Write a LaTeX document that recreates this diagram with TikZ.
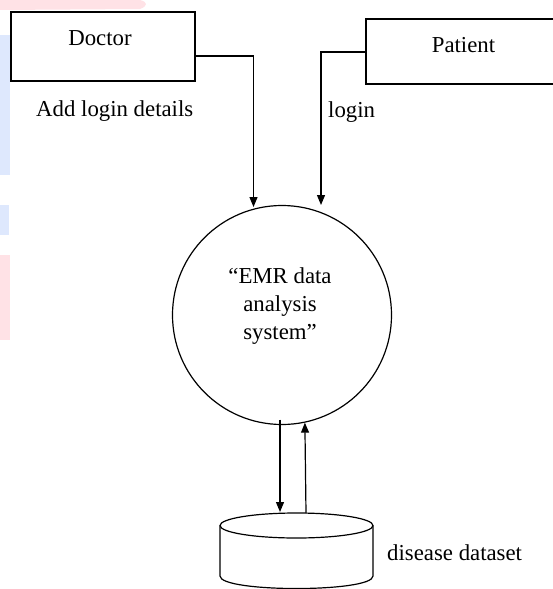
\documentclass[tikz,border=0pt]{standalone}
\usepackage{fontspec}
\setmainfont{Liberation Serif}
\usetikzlibrary{arrows.meta}
\definecolor{wmpink}{RGB}{255,226,230}
\definecolor{wmblue}{RGB}{222,232,253}
\begin{document}
\begin{tikzpicture}[x=1pt,y=-1pt,
  every node/.style={font=\fontsize{22.8}{28}\selectfont, inner sep=0pt},
  box/.style={draw, line width=1.2pt, rectangle},
  proc/.style={draw, line width=1.2pt, circle},
  lbl/.style={anchor=base},
  lblw/.style={anchor=base west},
  flow/.style={line width=1.2pt, -{Triangle[length=10pt,width=8pt]}}]
\useasboundingbox (0,0) rectangle (553,589);
% faint watermark traces
\fill[wmpink] (0,0) -- (140,0) .. controls (148,2) and (148,6) .. (140,9) -- (0,10) -- cycle;
\fill[wmblue] (0,35) rectangle (10,175);
\fill[wmblue] (0,205) rectangle (9,235);
\fill[wmpink] (0,255) rectangle (10,340);
% entities
\node[box, minimum width=184pt, minimum height=69pt] (doctor) at (103,46.5) {};
\node[lbl] (doctortxt) at (100,45) {Doctor};
\node[box, minimum width=195pt, minimum height=65pt] (patient) at (463.5,51.5) {};
\node[lbl] (patienttxt) at (463.5,52.5) {Patient};
% process
\node[proc, minimum size=219pt] (emr) at (282,315) {};
\node[align=center] (emrtxt) at (280,306.5) {``EMR data\\analysis\\system''};
% data store
\coordinate (db) at (296.5,525.5);
\draw[line width=1.2pt] (db) ellipse [x radius=76.5, y radius=12.5];
\draw[line width=1.2pt] (220,525.5) -- (220,576)
  .. controls (220,592.7) and (373,592.7) .. (373,576) -- (373,525.5);
\node[lblw] (dbtxt) at (387,560) {disease dataset};
% labels
\node[lblw] (l1) at (36,116.5) {Add login details};
\node[lblw] (l2) at (328,117) {login};
% flows
\coordinate (inD) at (253.5,207);
\coordinate (inP) at (321,205);
\coordinate (d1) at (280,512);
\coordinate (u1) at (306,513);
\draw[flow] ([yshift=-9.5pt]doctor.east) -| (inD);
\draw[flow] ([yshift=-0.5pt]patient.west) -| (inP);
\draw[flow] ([xshift=-2pt,yshift=5.5pt]emr.south) -- (d1);
\draw[flow] (u1) -- (emr.282.7);
\end{tikzpicture}
\end{document}
